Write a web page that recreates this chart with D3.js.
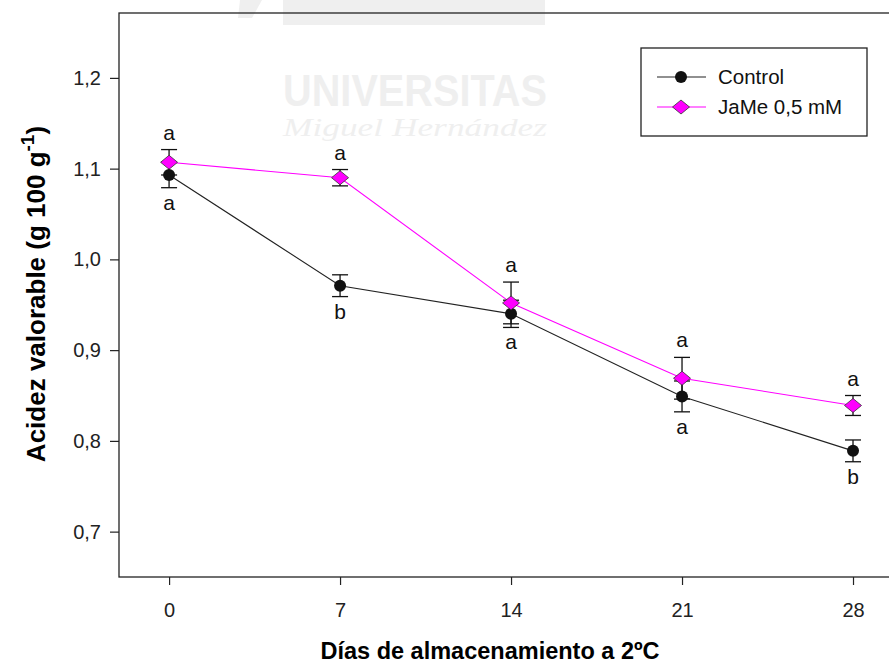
<!DOCTYPE html>
<meta charset="utf-8">
<script src="https://d3js.org/d3.v7.min.js"></script>
<style>
  body { margin: 0; background: #fff; }
  text { font-family: Arial, "Liberation Sans", sans-serif; }
</style>
<body>
<div id="my_dataviz"></div>
<script>

// data
var days = [0, 7, 14, 21, 28];
var controlMean = [1.093, 0.971, 0.940, 0.849, 0.789];
var controlErr  = [0.014, 0.012, 0.015, 0.017, 0.012];
var controlLetters = ["a", "b", "a", "a", "b"];
var jameMean = [1.107, 1.090, 0.952, 0.869, 0.839];
var jameErr  = [0.014, 0.009, 0.023, 0.023, 0.011];
var jameLetters = ["a", "a", "a", "a", "a"];
var yTicks = [0.7, 0.8, 0.9, 1.0, 1.1, 1.2];

var W = 889, H = 665;
var margin = {top: 13, left: 119, bottom: 88};

var svg = d3.select("#my_dataviz")
  .append("svg")
    .attr("width", W)
    .attr("height", H);

// faint watermark behind the plot
var wm = svg.append("g").attr("fill", "#efefef");
wm.append("rect").attr("x", 283).attr("y", 0).attr("width", 262).attr("height", 25);
wm.append("path").attr("d", "M240,0L262,0L252,18L238,18Z");
wm.append("text").attr("x", 283).attr("y", 106)
  .attr("textLength", 264).attr("lengthAdjust", "spacingAndGlyphs")
  .style("font-size", "44px").style("font-weight", "bold").text("UNIVERSITAS");
wm.append("text").attr("x", 283).attr("y", 136)
  .attr("textLength", 264).attr("lengthAdjust", "spacingAndGlyphs")
  .style("font-family", "'Liberation Serif', serif").style("font-style", "italic")
  .style("font-size", "25px").text("Miguel Hernández");

var x = d3.scaleLinear().domain([-2.05, 30.6]).range([margin.left, 169 + 30.6 * 171 / 7]);
var y = d3.scaleLinear().domain([0.65, 1.2715]).range([577, margin.top]);

// frame
svg.append("rect")
  .attr("x", x(-2.05)).attr("y", y(1.2715))
  .attr("width", x(30.6) - x(-2.05)).attr("height", y(0.65) - y(1.2715))
  .attr("fill", "none").attr("stroke", "#222").attr("stroke-width", 1.3);

// y axis
var yAxis = svg.append("g")
  .attr("transform", "translate(" + margin.left + ",0)")
  .call(d3.axisLeft(y).tickValues(yTicks).tickSize(9).tickPadding(9)
    .tickFormat(function(d) { return d3.format(".1f")(d).replace(".", ","); }));
yAxis.select(".domain").remove();
yAxis.selectAll("line").attr("stroke", "#222").attr("stroke-width", 1.2);
yAxis.selectAll("text").style("font-size", "20px").attr("fill", "#222");

// x axis
var xAxis = svg.append("g")
  .attr("transform", "translate(0,577)")
  .call(d3.axisBottom(x).tickValues(days).tickSize(8).tickPadding(18));
xAxis.select(".domain").remove();
xAxis.selectAll("line").attr("stroke", "#222").attr("stroke-width", 1.2);
xAxis.selectAll("text").style("font-size", "20px").attr("fill", "#222");

// axis titles
svg.append("text")
  .attr("x", 490).attr("y", 659)
  .attr("text-anchor", "middle")
  .style("font-size", "23.5px").style("font-weight", "bold")
  .text("Días de almacenamiento a 2ºC");

var yt = svg.append("text")
  .attr("transform", "translate(45,294) rotate(-90)")
  .attr("text-anchor", "middle")
  .style("font-size", "26px").style("font-weight", "bold");
yt.append("tspan").text("Acidez valorable (g 100 g");
yt.append("tspan").attr("dy", -11).style("font-size", "19px").text("-1");
yt.append("tspan").attr("dy", 11).text(")");

function series(mean, err) {
  return days.map(function(d, i) { return {day: d, v: mean[i], e: err[i]}; });
}
var ctrl = series(controlMean, controlErr);
var jame = series(jameMean, jameErr);

var line = d3.line().x(function(d) { return x(d.day); }).y(function(d) { return y(d.v); });

svg.append("path").datum(ctrl).attr("d", line)
  .attr("fill", "none").attr("stroke", "#222").attr("stroke-width", 1.1);
svg.append("path").datum(jame).attr("d", line)
  .attr("fill", "none").attr("stroke", "#ff00ff").attr("stroke-width", 1.1);

// error bars
function errBars(data) {
  var g = svg.append("g").attr("stroke", "#111").attr("stroke-width", 1.3);
  g.selectAll(".v").data(data).enter().append("line")
    .attr("x1", function(d) { return x(d.day); }).attr("x2", function(d) { return x(d.day); })
    .attr("y1", function(d) { return y(d.v - d.e); }).attr("y2", function(d) { return y(d.v + d.e); });
  [-1, 1].forEach(function(s) {
    g.selectAll(".c" + s).data(data).enter().append("line")
      .attr("x1", function(d) { return x(d.day) - 8; }).attr("x2", function(d) { return x(d.day) + 8; })
      .attr("y1", function(d) { return y(d.v + s * d.e); }).attr("y2", function(d) { return y(d.v + s * d.e); });
  });
}
errBars(ctrl);
errBars(jame);

var diamond = "M0,-7L8.5,0L0,7L-8.5,0Z";

svg.append("g").selectAll("circle").data(ctrl).enter().append("circle")
  .attr("cx", function(d) { return x(d.day); })
  .attr("cy", function(d) { return y(d.v); })
  .attr("r", 6).attr("fill", "#111");

svg.append("g").selectAll("path").data(jame).enter().append("path")
  .attr("d", diamond)
  .attr("transform", function(d) { return "translate(" + x(d.day) + "," + y(d.v) + ")"; })
  .attr("fill", "#ff00ff").attr("stroke", "#333").attr("stroke-width", 0.8);

// significance letters
svg.append("g").selectAll("text").data(ctrl).enter().append("text")
  .attr("x", function(d) { return x(d.day); })
  .attr("y", function(d) { return y(d.v - d.e) + 22; })
  .attr("text-anchor", "middle").style("font-size", "21px").attr("fill", "#111")
  .text(function(d, i) { return controlLetters[i]; });

svg.append("g").selectAll("text").data(jame).enter().append("text")
  .attr("x", function(d) { return x(d.day); })
  .attr("y", function(d) { return y(d.v + d.e) - 10; })
  .attr("text-anchor", "middle").style("font-size", "21px").attr("fill", "#111")
  .text(function(d, i) { return jameLetters[i]; });

// legend
var lg = svg.append("g");
lg.append("rect").attr("x", 641).attr("y", 48).attr("width", 226).attr("height", 88)
  .attr("fill", "#fff").attr("stroke", "#222").attr("stroke-width", 1.3);
var items = [
  {label: "Control", color: "#222", mark: "circle", yy: 77},
  {label: "JaMe 0,5 mM", color: "#ff00ff", mark: "diamond", yy: 107}
];
items.forEach(function(it) {
  lg.append("line").attr("x1", 657).attr("x2", 706).attr("y1", it.yy).attr("y2", it.yy)
    .attr("stroke", it.color).attr("stroke-width", 1.1);
  if (it.mark === "circle") {
    lg.append("circle").attr("cx", 681).attr("cy", it.yy).attr("r", 6).attr("fill", "#111");
  } else {
    lg.append("path").attr("d", diamond).attr("transform", "translate(681," + it.yy + ")")
      .attr("fill", "#ff00ff").attr("stroke", "#333").attr("stroke-width", 0.8);
  }
  lg.append("text").attr("x", 718).attr("y", it.yy + 7)
    .style("font-size", "20.5px").attr("fill", "#111").text(it.label);
});

</script>
</body>
